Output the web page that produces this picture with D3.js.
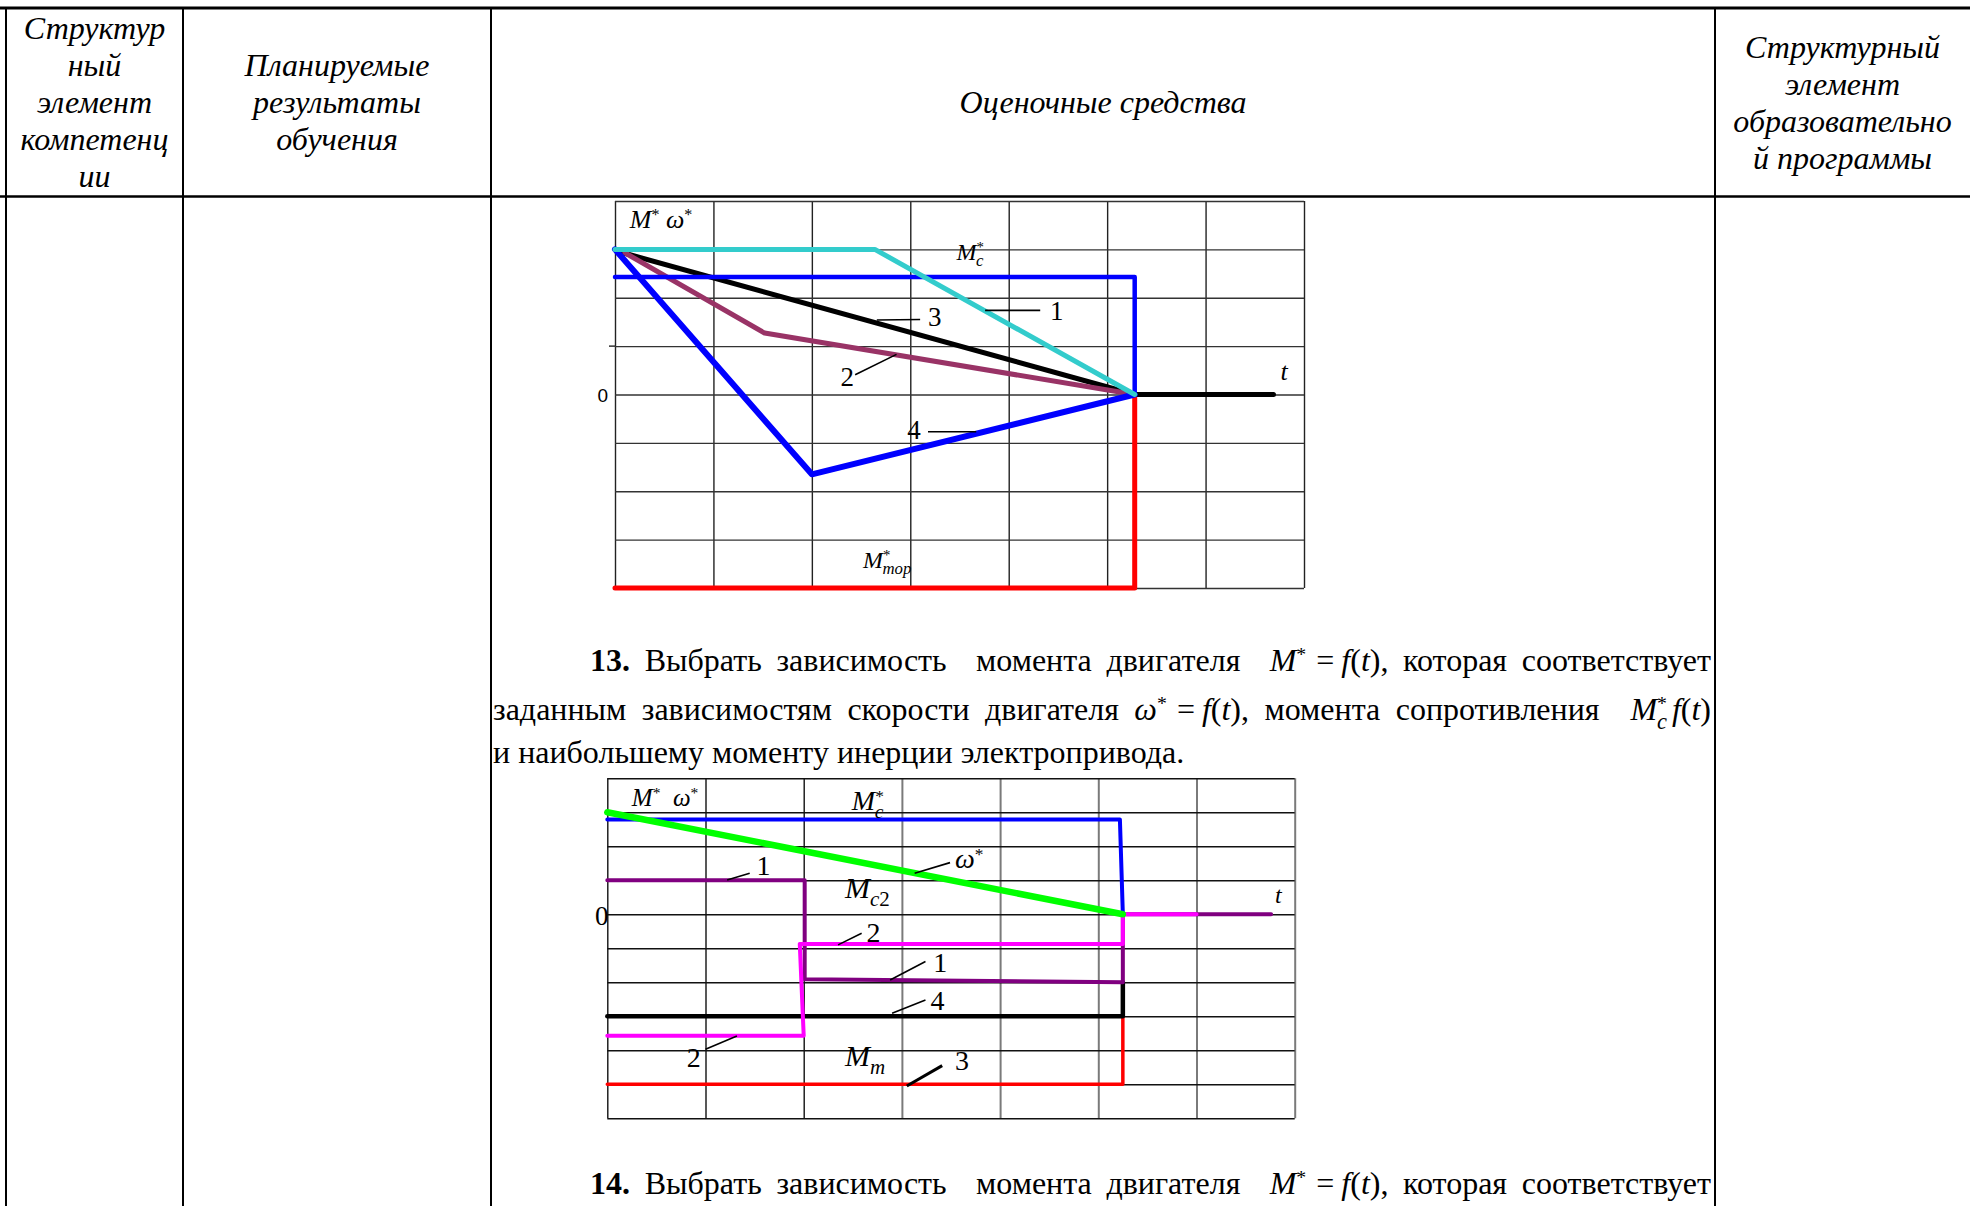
<!DOCTYPE html>
<html>
<head>
<meta charset="utf-8">
<script src="https://cdn.jsdelivr.net/npm/d3@7"></script>
<style>
  html, body { margin: 0; padding: 0; background: #fff; }
  svg { display: block; }
</style>
</head>
<body>
<svg id="page" width="1970" height="1206"></svg>
<script>
// ---------- table captions ----------
const headerCol1 = ["Структур", "ный", "элемент", "компетенц", "ии"];
const headerCol2 = ["Планируемые", "результаты", "обучения"];
const headerCol3 = ["Оценочные средства"];
const headerCol4 = ["Структурный", "элемент", "образовательно", "й программы"];

// ---------- figure 1: torque / speed diagrams, time in grid cells ----------
const fig1Cols = d3.range(0, 8);          // t grid
const fig1Rows = d3.range(-4, 5);         // M*, ω* grid, zero in the middle
const fig1Mc   = [[0, 2.43], [5.28, 2.43], [5.28, 0]];
const fig1Mtor = [[0, -4], [5.28, -4], [5.28, 0]];
const fig1Curve1 = [[0, 3], [2.64, 3], [5.28, 0]];
const fig1Curve2 = [[0.1, 2.93], [1.52, 1.27], [5.28, 0]];
const fig1Curve3 = [[0.08, 2.93], [5.28, 0], [6.69, 0]];
const fig1Curve4 = [[0, 3], [2.0, -1.65], [5.28, 0]];
const fig1Notes = [
  { label: "1", at: [4.42, 1.53], from: [3.76, 1.74], to: [4.32, 1.74] },
  { label: "2", at: [2.29, 0.17], from: [2.44, 0.41], to: [2.86, 0.83] },
  { label: "3", at: [3.18, 1.41], from: [2.66, 1.54], to: [3.10, 1.55] },
  { label: "4", at: [2.97, -0.93], from: [3.18, -0.77], to: [3.67, -0.77] }
];

// ---------- figure 2 ----------
const fig2Cols = d3.range(0, 8);
const fig2Rows = d3.range(-6, 5);
const fig2Mc     = [[0, 2.79], [5.22, 2.79], [5.25, 0]];
const fig2Omega  = [[0, 3], [5.25, 0]];
const fig2Curve1 = [[0, 1], [2.01, 1], [2.01, -1.91], [5.25, -2.0], [5.25, 0], [6.76, 0]];
const fig2Curve2 = [[0, -3.57], [2.0, -3.57], [1.96, -0.87], [5.25, -0.87], [5.25, 0], [6.0, 0]];
const fig2Curve3 = [[0, -5], [5.25, -5], [5.25, -3]];
const fig2Curve4 = [[0, -3], [5.25, -3], [5.25, -2]];
const fig2Notes = [
  { label: "1", at: [1.52, 1.16], from: [1.22, 1.01], to: [1.45, 1.21] },
  { label: "2", at: [2.64, -0.81], from: [2.35, -0.90], to: [2.59, -0.56] },
  { label: "1", at: [3.32, -1.69], from: [2.88, -1.93], to: [3.24, -1.39] },
  { label: "4", at: [3.29, -2.81], from: [2.90, -2.91], to: [3.24, -2.52] },
  { label: "2", at: [0.81, -4.48], from: [1.00, -3.97], to: [1.32, -3.58] },
  { label: "3", at: [3.54, -4.58], from: [3.05, -5.05], to: [3.41, -4.45], heavy: true }
];

// ---------- drawing ----------
const SERIF = "'Liberation Serif','Times New Roman',serif";
const SANS = "'Liberation Sans',Arial,sans-serif";
const svg = d3.select("#page");

// rich text: segments {t, i (italic), b (bold), sup, sub, dx}
function rich(parent, x, y, size, segs) {
  const t = parent.append("text")
    .attr("x", x).attr("y", y)
    .attr("font-family", SERIF).attr("font-size", size)
    .attr("xml:space", "preserve").style("white-space", "pre")
    .attr("fill", "#000");
  let shift = 0;
  segs.forEach(s => {
    const sp = t.append("tspan").text(s.t);
    let target = 0, fs = size;
    if (s.sup) { target = -size * 0.3; fs = size * 0.62; }
    if (s.sub) { target = size * 0.28; fs = size * (s.subScale || 0.7); }
    sp.attr("font-size", fs);
    if (target !== shift) { sp.attr("dy", target - shift); shift = target; }
    if (s.i) sp.attr("font-style", "italic");
    if (s.b) sp.attr("font-weight", "bold");
    if (s.dx) sp.attr("dx", s.dx);
  });
  return t;
}

// stretch the inter-word spaces so the line ends exactly at the right edge
function justify(sel, x0, right) {
  const node = sel.node();
  const spaces = (node.textContent.match(/ /g) || []).length;
  if (!spaces) return;
  const bb = node.getBBox();
  const used = bb.x + bb.width - x0;
  sel.style("word-spacing", ((right - x0 - used) / spaces) + "px");
}

// ----- table frame -----
const table = svg.append("g");
const colEdges = [6, 183, 491, 1715];
table.append("line").attr("x1", 0).attr("x2", 1970).attr("y1", 8).attr("y2", 8)
  .attr("stroke", "#000").attr("stroke-width", 3);
table.append("line").attr("x1", 0).attr("x2", 1970).attr("y1", 196.5).attr("y2", 196.5)
  .attr("stroke", "#000").attr("stroke-width", 2.5);
table.selectAll("line.col").data(colEdges).enter().append("line")
  .attr("class", "col")
  .attr("x1", d => d).attr("x2", d => d).attr("y1", 7).attr("y2", 1206)
  .attr("stroke", "#000").attr("stroke-width", 2);

const headers = [
  { lines: headerCol1, cx: 94.5, y0: 39 },
  { lines: headerCol2, cx: 337, y0: 76 },
  { lines: headerCol3, cx: 1103, y0: 113 },
  { lines: headerCol4, cx: 1842.5, y0: 58 }
];
headers.forEach(h => {
  table.selectAll(null).data(h.lines).enter().append("text")
    .attr("x", h.cx).attr("y", (d, i) => h.y0 + i * 37)
    .attr("text-anchor", "middle")
    .attr("font-family", SERIF).attr("font-style", "italic").attr("font-size", 32)
    .text(d => d);
});

// ----- generic diagram -----
function diagram(cfg) {
  const g = svg.append("g");
  const x = d3.scaleLinear().domain([0, 7]).range([cfg.left, cfg.right]);
  const y = d3.scaleLinear().domain([cfg.rows[0], cfg.rows[cfg.rows.length - 1]])
    .range([cfg.bottom, cfg.top]);
  const h = cfg.bottom - cfg.top, w = cfg.right - cfg.left;

  const gx = g.append("g").attr("transform", `translate(0,${cfg.bottom})`)
    .call(d3.axisBottom(x).tickValues(cfg.cols).tickSize(-h).tickFormat(""));
  gx.select(".domain").remove();
  gx.selectAll(".tick line")
    .attr("stroke", d => cfg.vColor(d)).attr("stroke-width", d => cfg.vWidth(d));

  const gy = g.append("g").attr("transform", `translate(${cfg.left},0)`)
    .call(d3.axisLeft(y).tickValues(cfg.rows).tickSize(-w).tickFormat(""));
  gy.select(".domain").remove();
  gy.selectAll(".tick line").attr("stroke", cfg.hColor).attr("stroke-width", 1.4);

  const line = d3.line().x(d => x(d[0])).y(d => y(d[1]));
  cfg.series.forEach(s => {
    g.append("path").attr("d", line(s.data))
      .attr("fill", "none").attr("stroke", s.color).attr("stroke-width", s.width)
      .attr("stroke-linejoin", "round").attr("stroke-linecap", "round");
  });

  cfg.notes.forEach(n => {
    g.append("line")
      .attr("x1", x(n.from[0])).attr("y1", y(n.from[1]))
      .attr("x2", x(n.to[0])).attr("y2", y(n.to[1]))
      .attr("stroke", "#000").attr("stroke-width", n.heavy ? 3 : 1.6);
    g.append("text").attr("x", x(n.at[0])).attr("y", y(n.at[1]))
      .attr("font-family", SERIF).attr("font-size", cfg.noteSize).text(n.label);
  });
  return { g, x, y };
}

// ----- figure 1 -----
const f1 = diagram({
  left: 615, right: 1304, top: 201, bottom: 588,
  cols: fig1Cols, rows: fig1Rows,
  vColor: () => "#222", vWidth: () => 1.4, hColor: "#333",
  noteSize: 27,
  series: [
    { data: fig1Mtor, color: "#ff0000", width: 5 },
    { data: fig1Curve3, color: "#000000", width: 5 },
    { data: fig1Curve2, color: "#993366", width: 5 },
    { data: fig1Mc, color: "#0000ff", width: 4.5 },
    { data: fig1Curve4, color: "#0000ff", width: 6 },
    { data: fig1Curve1, color: "#33cccc", width: 5 }
  ],
  notes: fig1Notes
});
f1.g.append("line").attr("x1", f1.x(0) - 6).attr("x2", f1.x(0))
  .attr("y1", f1.y(1)).attr("y2", f1.y(1)).attr("stroke", "#222").attr("stroke-width", 1.4);
f1.g.append("text").attr("x", 608).attr("y", f1.y(0) + 7).attr("text-anchor", "end")
  .attr("font-family", SANS).attr("font-size", 19).text("0");
rich(f1.g, f1.x(0.15), f1.y(3.45), 26,
  [{ t: "M", i: 1 }, { t: "*", sup: 1 }, { t: " " }, { t: "ω", i: 1 }, { t: "*", sup: 1 }]);
rich(f1.g, f1.x(3.47), f1.y(2.79), 24,
  [{ t: "M", i: 1 }, { t: "*", sup: 1 }, { t: "c", i: 1, sub: 1, dx: -8 }]);
rich(f1.g, f1.x(2.52), f1.y(-3.58), 24,
  [{ t: "M", i: 1 }, { t: "*", sup: 1 }, { t: "тор", i: 1, sub: 1, dx: -8 }]);
rich(f1.g, f1.x(6.76), f1.y(0.29), 26, [{ t: "t", i: 1 }]);

// ----- figure 2 -----
const f2 = diagram({
  left: 607.3, right: 1294.7, top: 778.3, bottom: 1118.3,
  cols: fig2Cols, rows: fig2Rows,
  vColor: d => d >= 3 ? "#7a7a7a" : "#111", vWidth: d => d >= 3 ? 2 : 1.4, hColor: "#111",
  noteSize: 28,
  series: [
    { data: fig2Curve3, color: "#ff0000", width: 3.5 },
    { data: fig2Curve4, color: "#000000", width: 4.5 },
    { data: fig2Curve1, color: "#800080", width: 4 },
    { data: fig2Curve2, color: "#ff00ff", width: 4 },
    { data: fig2Mc, color: "#0000ff", width: 4 },
    { data: fig2Omega, color: "#00ff00", width: 6.5 }
  ],
  notes: fig2Notes
});
f2.g.append("text").attr("x", 595).attr("y", 925)
  .attr("font-family", SERIF).attr("font-size", 27).text("0");
rich(f2.g, f2.x(0.25), f2.y(3.19), 25,
  [{ t: "M", i: 1 }, { t: "*", sup: 1 }, { t: "  " }, { t: "ω", i: 1 }, { t: "*", sup: 1 }]);
rich(f2.g, f2.x(2.49), f2.y(3.07), 28,
  [{ t: "M", i: 1 }, { t: "*", sup: 1 }, { t: "c", i: 1, sub: 1, dx: -9 }]);
rich(f2.g, f2.x(3.54), f2.y(1.35), 28, [{ t: "ω", i: 1 }, { t: "*", sup: 1 }]);
f2.g.append("line").attr("x1", f2.x(3.13)).attr("y1", f2.y(1.21))
  .attr("x2", f2.x(3.49)).attr("y2", f2.y(1.52)).attr("stroke", "#000").attr("stroke-width", 1.6);
rich(f2.g, f2.x(2.42), f2.y(0.48), 30,
  [{ t: "M", i: 1 }, { t: "c", i: 1, sub: 1 }, { t: "2", sub: 1 }]);
rich(f2.g, f2.x(2.42), f2.y(-4.45), 30,
  [{ t: "M", i: 1 }, { t: "m", i: 1, sub: 1 }]);
rich(f2.g, f2.x(6.80), f2.y(0.34), 24, [{ t: "t", i: 1 }]);

// ----- task text -----
const textG = svg.append("g");
const FS = 32;
const rightEdge = 1711;

// M* = f(t) written as one formula with fixed inner gaps
const formula = (sym) => [
  { t: sym, i: 1 }, { t: "*", sup: 1 }, { t: "=", dx: 10 },
  { t: "f", i: 1, dx: 7 }, { t: "(" }, { t: "t", i: 1 }, { t: ")" }
];

const l1 = rich(textG, 590, 671, FS, [
  { t: "13.", b: 1 }, { t: " Выбрать зависимость  момента двигателя  " },
  ...formula("M"),
  { t: ", которая соответствует" }
]);
justify(l1, 590, rightEdge);

const l2 = rich(textG, 493, 720, FS, [
  { t: "заданным зависимостям скорости двигателя " },
  ...formula("ω"),
  { t: ", момента сопротивления  " },
  { t: "M", i: 1 }, { t: "*", sup: 1 }, { t: "c", i: 1, sub: 1, dx: -10 },
  { t: "f", i: 1, dx: 5 }, { t: "(" }, { t: "t", i: 1 }, { t: ")" }
]);
justify(l2, 493, rightEdge);

rich(textG, 493, 763, FS, [{ t: "и наибольшему моменту инерции электропривода." }]);

const l4 = rich(textG, 590, 1194, FS, [
  { t: "14.", b: 1 }, { t: " Выбрать зависимость  момента двигателя  " },
  ...formula("M"),
  { t: ", которая соответствует" }
]);
justify(l4, 590, rightEdge);
</script>
</body>
</html>
